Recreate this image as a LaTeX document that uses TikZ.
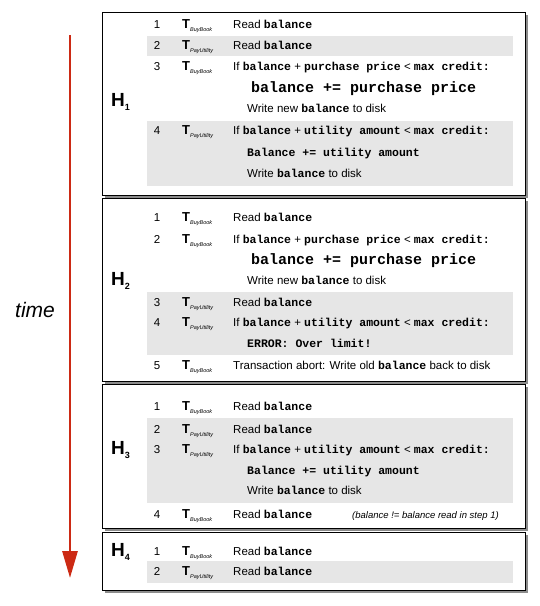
\documentclass[tikz,border=0pt]{standalone}
\usepackage{fontspec}
\setmainfont{Liberation Sans}
\setmonofont{Liberation Mono}
\usetikzlibrary{arrows.meta}
\definecolor{tm}{HTML}{CC2A14}
\definecolor{bd}{HTML}{E6E6E6}
\definecolor{sh}{HTML}{8C8C8C}
\newcommand{\Bl}[1]{{\ttfamily\bfseries #1}}
\newcommand{\Tx}[1]{{\fontsize{13}{13}\selectfont\bfseries T}\raisebox{-3pt}{\fontsize{5.5}{6}\selectfont\itshape #1}}
\newcommand{\Hx}[1]{\textbf{H}\raisebox{-4pt}{\fontsize{9}{9}\selectfont\bfseries #1}}
\newcommand{\Step}[5]{%
  \node[num] (n#1) at (157,#2) {#3};
  \node[txt] (t#1) at (182,#2) {\Tx{#4}};
  \node[txt] (s#1) at (233,#2) {#5};}

\begin{document}
\begin{tikzpicture}[x=1pt,y=-1pt,
    panel/.style={draw=black, fill=white, line width=0.8pt},
    shade/.style={fill=sh},
    band/.style={fill=bd},
    txt/.style={anchor=west, inner sep=0pt, text height=8pt, text depth=2pt, font=\fontsize{11.5}{13}\selectfont},
    num/.style={inner sep=0pt, text height=8pt, text depth=2pt, font=\fontsize{11.5}{13}\selectfont},
    hlab/.style={anchor=west, inner sep=0pt, font=\fontsize{19}{21}\selectfont\bfseries},
    code/.style={txt, font=\fontsize{15}{17}\selectfont\ttfamily\bfseries},
    note/.style={txt, font=\fontsize{9.5}{11}\selectfont\itshape},
    timearrow/.style={draw=tm, line width=2.8pt, -{Triangle[width=15pt,length=27pt]}}]
  \useasboundingbox (0,0) rectangle (540,606);

  % time axis
  \coordinate (tstart) at (70,35);
  \coordinate (tend) at (70,578);
  \draw[timearrow] (tstart) -- (tend);
  \node[font=\fontsize{21}{23}\selectfont\itshape] (time) at (35,310) {time};

  % panels with shadow
  \fill[shade] (105,15) rectangle (528,198);
  \draw[panel] (102,12) rectangle (525,195);
  \fill[shade] (105,201) rectangle (528,384);
  \draw[panel] (102,198) rectangle (525,381);
  \fill[shade] (105,387) rectangle (528,531);
  \draw[panel] (102,384) rectangle (525,528);
  \fill[shade] (105,535) rectangle (528,593);
  \draw[panel] (102,532) rectangle (525,590);

  % grey bands (PayUtility steps)
  \fill[band] (147,36) rectangle (513,56);
  \fill[band] (147,121) rectangle (513,186);
  \fill[band] (147,292) rectangle (513,355);
  \fill[band] (147,418) rectangle (513,503);
  \fill[band] (147,561) rectangle (513,583);

  % H1
  \node[hlab] (h1) at (111,102) {\Hx{1}};
  \Step{1a}{25}{1}{BuyBook}{Read \Bl{balance}}
  \Step{1b}{46}{2}{PayUtility}{Read \Bl{balance}}
  \Step{1c}{67}{3}{BuyBook}{If \Bl{balance} + \Bl{purchase price} < \Bl{max credit:}}
  \node[code] (c1c) at (251,89) {balance += purchase price};
  \node[txt] (w1c) at (247,109) {Write new \Bl{balance} to disk};
  \Step{1d}{131}{4}{PayUtility}{If \Bl{balance} + \Bl{utility amount} < \Bl{max credit:}}
  \node[txt] (c1d) at (247,153) {\Bl{Balance += utility amount}};
  \node[txt] (w1d) at (247,174) {Write \Bl{balance} to disk};

  % H2
  \node[hlab] (h2) at (111,281) {\Hx{2}};
  \Step{2a}{218}{1}{BuyBook}{Read \Bl{balance}}
  \Step{2b}{240}{2}{BuyBook}{If \Bl{balance} + \Bl{purchase price} < \Bl{max credit:}}
  \node[code] (c2b) at (251,261) {balance += purchase price};
  \node[txt] (w2b) at (247,281) {Write new \Bl{balance} to disk};
  \Step{2c}{303}{3}{PayUtility}{Read \Bl{balance}}
  \Step{2d}{323}{4}{PayUtility}{If \Bl{balance} + \Bl{utility amount} < \Bl{max credit:}}
  \node[txt] (e2d) at (247,344) {\Bl{ERROR: Over limit!}};
  \Step{2e}{366}{5}{BuyBook}{Transaction abort: Write old \Bl{balance} back to disk}

  % H3
  \node[hlab] (h3) at (111,450) {\Hx{3}};
  \Step{3a}{407}{1}{BuyBook}{Read \Bl{balance}}
  \Step{3b}{430}{2}{PayUtility}{Read \Bl{balance}}
  \Step{3c}{450}{3}{PayUtility}{If \Bl{balance} + \Bl{utility amount} < \Bl{max credit:}}
  \node[txt] (c3c) at (247,471) {\Bl{Balance += utility amount}};
  \node[txt] (w3c) at (247,491) {Write \Bl{balance} to disk};
  \Step{3d}{515}{4}{BuyBook}{Read \Bl{balance}}
  \node[note] (m3d) at (352,515) {(balance != balance read in step 1)};

  % H4
  \node[hlab] (h4) at (111,552) {\Hx{4}};
  \Step{4a}{552}{1}{BuyBook}{Read \Bl{balance}}
  \Step{4b}{572}{2}{PayUtility}{Read \Bl{balance}}
\end{tikzpicture}
\end{document}
